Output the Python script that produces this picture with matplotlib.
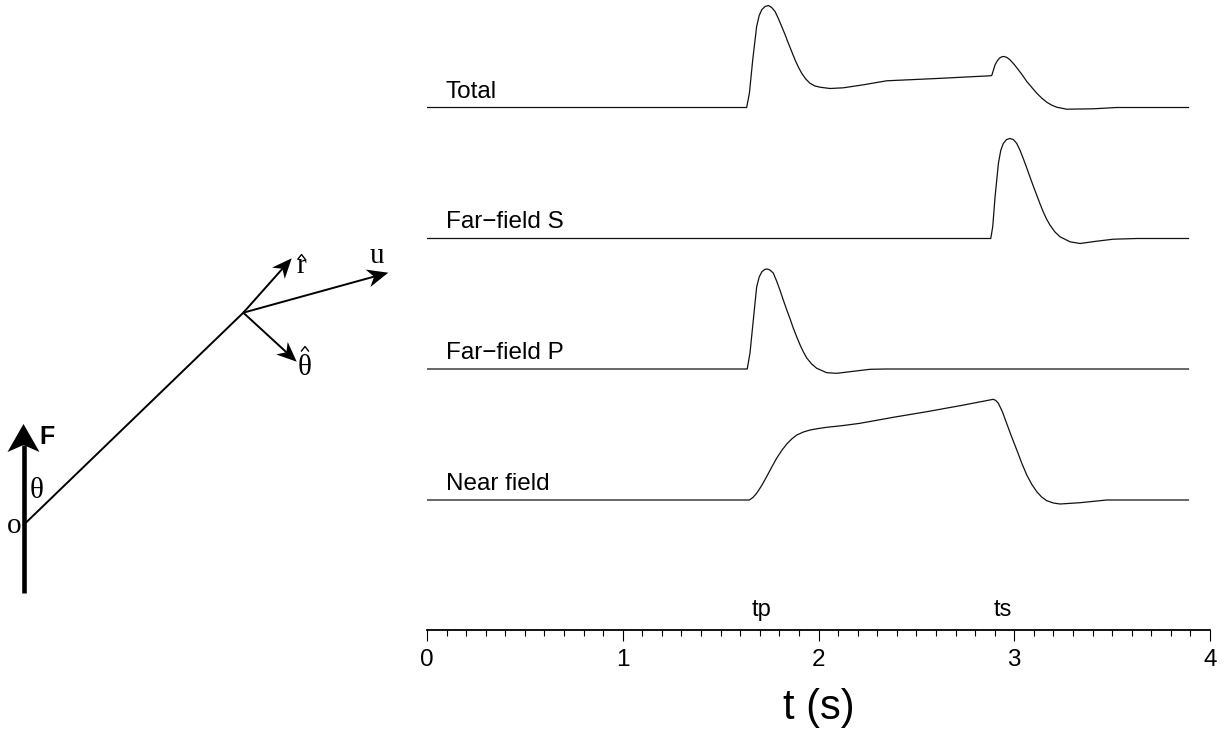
import numpy as np
import matplotlib
matplotlib.use("Agg")
import matplotlib.pyplot as plt
from matplotlib.patches import Polygon
from matplotlib.ticker import MultipleLocator

plt.rcParams["font.family"] = ["Liberation Sans", "DejaVu Sans"]

# traces: time (s) and amplitude (arbitrary units)
total_t = [0, 1.633, 1.647, 1.664, 1.684, 1.697, 1.710, 1.727, 1.744, 1.761, 1.778, 1.795,
           1.812, 1.829, 1.846, 1.863, 1.880, 1.897, 1.914, 1.935, 1.956, 1.982, 2.008, 2.059,
           2.127, 2.229, 2.348, 2.604, 2.876, 2.885, 2.893, 2.902, 2.913, 2.924, 2.936, 2.948,
           2.963, 2.978, 3.000, 3.021, 3.043, 3.064, 3.090, 3.115, 3.141, 3.166, 3.192, 3.217,
           3.268, 3.404, 3.523, 3.89]
total_a = [0, 0, 14.3, 47.7, 81, 92, 97.7, 101, 102, 100, 96, 89, 81, 73, 64.3, 56, 47.7,
           40.5, 34.3, 28.5, 24.3, 21.5, 20.3, 19, 19.7, 22.7, 26.7, 29, 31.7, 32, 37, 42.7,
           46.5, 49.3, 50.7, 51, 50, 47.7, 43, 37.7, 32, 26, 20, 14.3, 9.3, 5.3, 2.3, 0.3,
           -1.7, -1.3, 0, 0]

s_t = [0, 2.880, 2.890, 2.902, 2.919, 2.931, 2.944, 2.961, 2.978, 2.995, 3.013, 3.030, 3.046,
       3.063, 3.080, 3.098, 3.115, 3.131, 3.148, 3.165, 3.183, 3.208, 3.234, 3.285, 3.336,
       3.421, 3.506, 3.626, 3.89]
s_a = [0, 0, 11.7, 41.7, 75, 88, 95, 99, 100, 99, 95, 88, 80, 71, 61.7, 52, 43.3, 35, 26.7,
       19.5, 13.3, 6.5, 1.7, -3.3, -5, -2.7, -0.7, 0, 0]

p_t = [0, 1.636, 1.650, 1.667, 1.684, 1.697, 1.710, 1.724, 1.738, 1.752, 1.769, 1.786, 1.803,
       1.820, 1.838, 1.855, 1.871, 1.889, 1.906, 1.923, 1.940, 1.965, 1.991, 2.042, 2.093,
       2.161, 2.263, 2.348, 3.89]
p_a = [0, 0, 16, 49, 82, 92, 97, 99.5, 100, 99, 96, 88, 79, 69, 59, 50, 41, 32, 24, 17, 11,
       5, 0.7, -3.7, -4.3, -2.7, -0.3, 0, 0]

near_t = [0, 1.647, 1.665, 1.684, 1.710, 1.735, 1.760, 1.786, 1.812, 1.838, 1.863, 1.889,
          1.923, 1.957, 2.000, 2.042, 2.127, 2.212, 2.382, 2.553, 2.723, 2.893, 2.906, 2.919,
          2.940, 2.961, 2.987, 3.013, 3.038, 3.064, 3.090, 3.115, 3.140, 3.166, 3.200, 3.234,
          3.336, 3.472, 3.89]
near_a = [0, 0, 2.5, 6.7, 14.5, 23.3, 32.5, 41.7, 49.5, 56, 61, 65, 68, 70, 71.5, 72.7, 74.5,
          76.7, 82.7, 88.3, 94.3, 100.7, 99.5, 96.7, 88, 76.7, 63, 50, 37, 25, 15.5, 8.3, 3,
          -0.7, -3, -4, -2.7, 0, 0]

names = ["Total", "Far\u2212field S", "Far\u2212field P", "Near field"]
times = [total_t, s_t, p_t, near_t]
amps = [total_a, s_a, p_a, near_a]
offsets = [522.5, 391.5, 261, 130]

tick_vals = [0, 1, 2, 3, 4]
phase_t = [1.71, 2.94]
phase_names = ["tp", "ts"]

W, H = 1225, 729
fig = plt.figure(figsize=(W / 100, H / 100), dpi=100)

# sketch on the left, drawn in pixel units
ax0 = fig.add_axes([0, 0, 1, 1])
ax0.set_xlim(0, W)
ax0.set_ylim(H, 0)
ax0.axis("off")


def arrow(a, x0, y0, x1, y1, lw, hl, hw, notch=0.3):
    d = np.hypot(x1 - x0, y1 - y0)
    ux, uy = (x1 - x0) / d, (y1 - y0) / d
    px, py = -uy, ux
    bx, by = x1 - hl * ux, y1 - hl * uy
    nx, ny = x1 - hl * (1 - notch) * ux, y1 - hl * (1 - notch) * uy
    a.plot([x0, nx], [y0, ny], color="black", lw=lw, solid_capstyle="butt")
    a.add_patch(Polygon([(x1, y1), (bx + hw / 2 * px, by + hw / 2 * py), (nx, ny),
                         (bx - hw / 2 * px, by - hw / 2 * py)], closed=True,
                        facecolor="black", edgecolor="none"))


def hat(a, cx, top):
    # small circumflex drawn over a letter
    a.plot([cx - 3.5, cx, cx + 3.5], [top + 4.5, top, top + 4.5], color="black", lw=1.0)


ox, oy = 23.5, 525
jx, jy = 243.3, 312.7
arrow(ax0, ox, 593, ox, 424, 3.3, 28, 32, 0.25)
ax0.plot([ox, jx], [oy, jy], color="black", lw=1.4)
arrow(ax0, jx, jy, 291.7, 258.3, 1.4, 20, 17)
arrow(ax0, jx, jy, 388.3, 272.7, 1.4, 21, 18)
arrow(ax0, jx, jy, 296.7, 361.7, 1.4, 20, 17)

serif = dict(family="Liberation Serif", fontsize=21, ha="center", va="baseline")
ax0.text(14, 533, "o", **serif)
ax0.text(36.7, 498, "\u03b8", **serif)
ax0.text(376.7, 263, "u", **serif)
ax0.text(301, 273, "r", **serif)
hat(ax0, 301.5, 254.5)
ax0.text(305, 375, "\u03b8", **serif)
hat(ax0, 305, 346.5)
ax0.text(46.7, 437, "F", fontsize=18, fontweight="bold", ha="center", va="center")

# seismogram panel
ax = fig.add_axes([427 / W, (H - 630) / H, 783 / W, 630 / H])
ax.patch.set_alpha(0)
for name, t, a, off in zip(names, times, amps, offsets):
    ax.plot(t, off + np.array(a), color="#111111", lw=0.9)
    ax.text(0.097, off + 10, name, fontsize=17.5, ha="left", va="baseline")

for t, lab in zip(phase_t, phase_names):
    ax.text(t, 14, lab, fontsize=17, ha="center", va="baseline")

ax.set_xlim(0, 4)
ax.set_ylim(0, 630)
for s in ["top", "left", "right"]:
    ax.spines[s].set_visible(False)
ax.spines["bottom"].set_linewidth(1.3)
ax.set_yticks([])
ax.set_xticks(tick_vals)
ax.xaxis.set_minor_locator(MultipleLocator(0.1))
ax.tick_params(which="major", direction="out", length=8, width=0.8, pad=6, labelsize=17.5)
ax.tick_params(which="minor", direction="out", length=4.3, width=0.8)
ax.set_xlabel("t (s)", fontsize=30, labelpad=12)

fig.savefig("out.png", dpi=100)
